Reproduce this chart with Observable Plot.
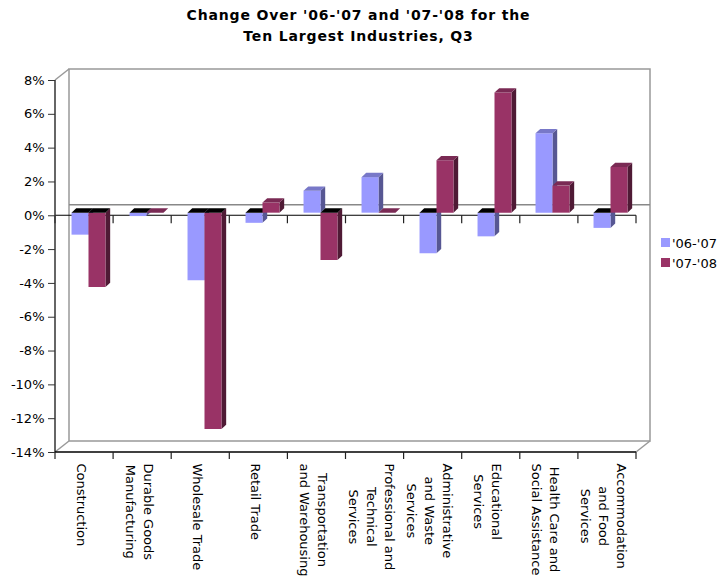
<!DOCTYPE html>
<html>
<head>
<meta charset="utf-8">
<script src="https://cdn.jsdelivr.net/npm/d3@7"></script>
<script src="https://cdn.jsdelivr.net/npm/@observablehq/plot@0.6"></script>
<style>
  html, body { margin: 0; padding: 0; background: #fff; }
  #wrap { position: relative; width: 723px; height: 576px; font-family: 'DejaVu Sans', Verdana, sans-serif; }
  #title { height: 50px; box-sizing: border-box; padding-top: 5px; font-weight: bold; font-size: 14px; letter-spacing: 0.85px; line-height: 21px; text-align: center; color: #000; transform: translateX(-3px); }
  .lg { position: absolute; font-size: 13px; line-height: 20px; color: #000; white-space: nowrap; }
  .sw { position: absolute; width: 9px; height: 9px; }
</style>
</head>
<body>
<div id="wrap">
  <div id="title">Change Over '06-'07 and '07-'08 for the<br>Ten Largest Industries, Q3</div>
  <div id="chart"></div>
  <div class="sw" style="left:661px; top:238px; background:#9999FF"></div>
  <div class="lg" style="left:672px; top:233.5px">'06-'07</div>
  <div class="sw" style="left:661px; top:258px; background:#993366"></div>
  <div class="lg" style="left:672px; top:253.5px">'07-'08</div>
</div>
<script>
// ---------------- data ----------------
const categories = [
  "Construction", "Durable Goods Manufacturing", "Wholesale Trade", "Retail Trade",
  "Transportation and Warehousing", "Professional and Technical Services",
  "Administrative and Waste Services", "Educational Services",
  "Health Care and Social Assistance", "Accommodation and Food Services"
];
const categoryLabels = [
  "Construction", "Durable Goods\nManufacturing", "Wholesale Trade", "Retail Trade",
  "Transportation\nand Warehousing", "Professional and\nTechnical\nServices",
  "Administrative\nand Waste\nServices", "Educational\nServices",
  "Health Care and\nSocial Assistance", "Accommodation\nand Food\nServices"
];
const seriesNames = ["'06-'07", "'07-'08"];
const change0607 = [-1.3, -0.2, -4.0, -0.6, 1.3, 2.1, -2.4, -1.4, 4.7, -0.9];
const change0708 = [-4.4, 0.0, -12.8, 0.6, -2.8, 0.0, 3.1, 7.1, 1.6, 2.7];
const yTicks = [-14, -12, -10, -8, -6, -4, -2, 0, 2, 4, 6, 8];

// ---------------- styles ----------------
const palette = {
  "'06-'07": {front: "#9999FF", top: "#7878C8", side: "#575793"},
  "'07-'08": {front: "#993366", top: "#7A2A54", side: "#4F1A35"}
};
const WALL_DX = 14, WALL_DY = -11;      // back wall offset
const BAR_DX = 3.5, BAR_DY = -2.6;      // bar plane offset
const DEPTH_DX = 4.7, DEPTH_DY = 4.3;   // bar depth
const BAR_FRAC = 17 / 58.1;             // bar width as fraction of band

const rows0 = categories.map((c, i) => ({category: c, series: seriesNames[0], value: change0607[i]}));
const rows1 = categories.map((c, i) => ({category: c, series: seriesNames[1], value: change0708[i]}));

function poly(g, pts, fill) {
  g.append("polygon").attr("points", pts.map(p => p.join(",")).join(" ")).attr("fill", fill);
}

function bar3d(rows, side) {
  const col = palette[rows[0].series];
  return Plot.barY(rows, {
    x: "category", y: "value", fill: col.front,
    render: (index, scales, values, dims) => {
      const bw = scales.x.bandwidth ? scales.x.bandwidth() : (dims.width - dims.marginLeft - dims.marginRight) / categories.length;
      const w = bw * BAR_FRAC;
      const g = d3.create("svg:g");
      for (const i of index) {
        const d = rows[i];
        const x0 = scales.x(d.category) + bw / 2 + (side < 0 ? -w : 0) + BAR_DX;
        const x1 = x0 + w;
        const yz = scales.y(0) + BAR_DY;
        const yv = scales.y(d.value) + BAR_DY;
        if (d.value >= 0) {
          poly(g, [[x1, yv], [x1 + DEPTH_DX, yv - DEPTH_DY], [x1 + DEPTH_DX, yz - DEPTH_DY], [x1, yz]], col.side);
          poly(g, [[x0, yv], [x1, yv], [x1, yz], [x0, yz]], col.front);
          poly(g, [[x0, yv], [x1, yv], [x1 + DEPTH_DX, yv - DEPTH_DY], [x0 + DEPTH_DX, yv - DEPTH_DY]], col.top);
        } else {
          poly(g, [[x1, yz], [x1 + DEPTH_DX, yz - DEPTH_DY], [x1 + DEPTH_DX, yv - DEPTH_DY], [x1, yv]], col.side);
          poly(g, [[x0, yz], [x1, yz], [x1, yv], [x0, yv]], col.front);
          poly(g, [[x0, yz], [x1, yz], [x1 + DEPTH_DX, yz - DEPTH_DY], [x0 + DEPTH_DX, yz - DEPTH_DY]], "#000");
        }
      }
      return g.node();
    }
  });
}

// back wall, floor edges and front zero line
function wallMark(index, scales, values, dims) {
  const L = dims.marginLeft, R = dims.width - dims.marginRight;
  const T = scales.y(d3.max(yTicks)), B = scales.y(d3.min(yTicks));
  const g = d3.create("svg:g").attr("fill", "none");
  const line = (x1, y1, x2, y2, stroke, sw) =>
    g.append("line").attr("x1", x1).attr("y1", y1).attr("x2", x2).attr("y2", y2)
      .attr("stroke", stroke).attr("stroke-width", sw);
  g.append("rect").attr("x", L + WALL_DX).attr("y", T + WALL_DY)
    .attr("width", R - L).attr("height", B - T).attr("stroke", "#999").attr("stroke-width", 1.5);
  line(L, T, L + WALL_DX, T + WALL_DY, "#999", 1.5);
  line(L, B, L + WALL_DX, B + WALL_DY, "#999", 1.5);
  line(R, B, R + WALL_DX, B + WALL_DY, "#999", 1.5);
  const y0 = scales.y(0);
  line(L + WALL_DX, y0 - 10.5, R + WALL_DX, y0 - 10.5, "#888", 1.5);
  line(L, y0, R, y0, "#000", 1.2);
  const bw = (R - L) / categories.length;
  for (let k = 0; k <= categories.length; k++) line(L + k * bw, y0, L + k * bw, y0 + 8, "#222", 1.2);
  return g.node();
}

function frontAxes(index, scales, values, dims) {
  const L = dims.marginLeft, R = dims.width - dims.marginRight;
  const T = scales.y(d3.max(yTicks)), B = scales.y(d3.min(yTicks));
  const g = d3.create("svg:g");
  const line = (x1, y1, x2, y2, stroke, sw) =>
    g.append("line").attr("x1", x1).attr("y1", y1).attr("x2", x2).attr("y2", y2)
      .attr("stroke", stroke).attr("stroke-width", sw);
  line(L, T, L, B, "#333", 1.5);
  line(L, B, R, B, "#000", 1.5);
  const bw = (R - L) / categories.length;
  for (let k = 0; k <= categories.length; k++) line(L + k * bw, B, L + k * bw, B + 7, "#222", 1.2);
  return g.node();
}

// label measurement
const ctx = document.createElement("canvas").getContext("2d");
ctx.font = "13px 'DejaVu Sans'";
const maxLineWidth = s => Math.max(...s.split("\n").map(l => ctx.measureText(l).width));

const labelMarks = categories.map((c, i) =>
  Plot.text([c], {
    x: d => d, text: () => categoryLabels[i], frameAnchor: "bottom", lineAnchor: "middle",
    rotate: 90, textAnchor: "middle", lineHeight: 1.36, fontSize: 13, fill: "#000",
    dx: -3, dy: 11 + maxLineWidth(categoryLabels[i]) / 2
  })
);

const chart = Plot.plot({
  width: 723, height: 526,
  marginTop: 30, marginBottom: 124, marginLeft: 55, marginRight: 87,
  style: {fontFamily: "'DejaVu Sans', Verdana, sans-serif", fontSize: "13px", background: "#fff", color: "#000", overflow: "visible"},
  x: {type: "band", domain: categories, padding: 0, axis: null},
  y: {domain: [d3.min(yTicks), d3.max(yTicks)], axis: null},
  marks: [
    wallMark,
    bar3d(rows0, -1),
    bar3d(rows1, 1),
    frontAxes,
    Plot.axisY({ticks: yTicks, tickSize: 7, tickPadding: 4, tickFormat: d => `${d}%`, fontSize: 13, label: null, stroke: "#333"}),
    ...labelMarks
  ]
});
document.getElementById("chart").appendChild(chart);
</script>
</body>
</html>
